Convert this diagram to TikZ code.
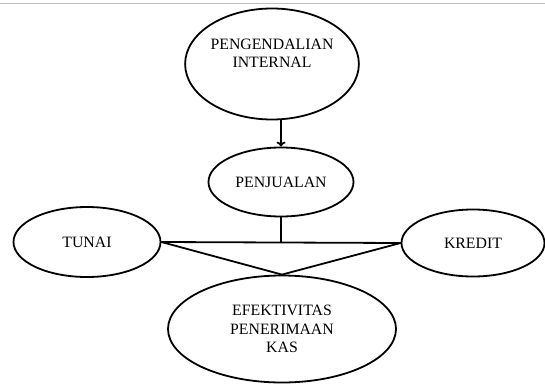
\documentclass[tikz,border=0pt]{standalone}
\usepackage{fontspec}
\setmainfont{Liberation Serif}
\usetikzlibrary{shapes.geometric,arrows.meta}
\begin{document}
\begin{tikzpicture}[x=1pt,y=-1pt,line width=1.8pt,
  every node/.style={draw,ellipse,inner sep=0pt,align=center,
    font=\fontsize{15.8}{18.5}\selectfont}]
\useasboundingbox (0,0) rectangle (545,383);
\path[draw,line width=1pt,black!25] (0,3) -- (545,3);
\node[minimum width=173pt,minimum height=111pt] (1) at (272,64) {PENGENDALIAN\\INTERNAL\\[-3pt]\strut};
\node[minimum width=145pt,minimum height=69pt] (2) at (281,182) {PENJUALAN};
\node[minimum width=147pt,minimum height=70pt] (3) at (87,242) {TUNAI};
\node[minimum width=143pt,minimum height=67pt] (4) at (473,243) {KREDIT};
\node[minimum width=228pt,minimum height=107pt] (5) at (282,329) {EFEKTIVITAS\\PENERIMAAN\\KAS};
\path[draw,-{To[length=5pt,width=9pt]}] (2.north |- 1.south) -- (2.north);
\path[draw,-] (3.east) -- (4.west);
\path[draw,-] (2.south) -- (2.south |- 3.east);
\path[draw,-] (3.east) -- (5.north);
\path[draw,-] (4.west) -- (5.north);
\end{tikzpicture}
\end{document}
